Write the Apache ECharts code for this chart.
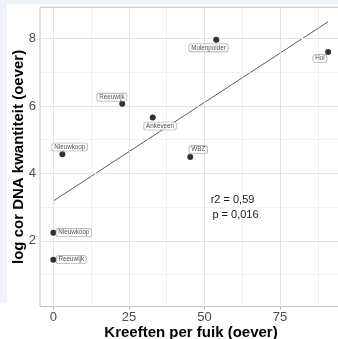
<!DOCTYPE html>
<html><head><meta charset="utf-8">
<script src="https://cdn.jsdelivr.net/npm/echarts@6/dist/echarts.min.js"></script>
<style>html,body{margin:0;padding:0;background:#fff}#c{width:338px;height:339px}</style>
</head><body><div id="c"></div>
<script>
const sites = ['Reeuwijk','Nieuwkoop','Nieuwkoop','Reeuwijk','Ankeveen','Molenpolder','Hol','WBZ'];
const kreeften = [0, 0, 3, 22.8, 32.9, 53.9, 90.9, 45.3];
const logDNA = [1.44, 2.24, 4.57, 6.07, 5.66, 7.97, 7.6, 4.49];
const fitX = [0, 90.9];
const fitY = [3.18, 8.5];
const xTicks = [0, 25, 50, 75];
const yTicks = [2, 4, 6, 8];
const xMinor = [12.5, 37.5, 62.5, 87.5];
const yMinor = [1, 3, 5, 7];
const statLines = ['r2 = 0,59', 'p = 0,016'];

// label offsets (styling, px)
const labelOffsets = [[18,0],[20.6,0],[7.4,-7.2],[-10.3,-6.5],[7.3,8.5],[-7.7,8.2],[-8.2,6.6],[8,-7.2]];

const FONT = '"Liberation Sans", Arial, sans-serif';
const chart = echarts.init(document.getElementById('c'), null, {renderer:'canvas'});

const gridLineData = []
  .concat(xTicks.map(v => ({xAxis: v, lineStyle:{width:1}})))
  .concat(yTicks.map(v => ({yAxis: v, lineStyle:{width:1}})))
  .concat(xMinor.map(v => ({xAxis: v, lineStyle:{width:0.5}})))
  .concat(yMinor.map(v => ({yAxis: v, lineStyle:{width:0.5}})));

chart.setOption({
  animation: false,
  backgroundColor: '#ffffff',
  graphic: [
    {type:'rect', shape:{x:0,y:0,width:338,height:4}, style:{fill:'#eef2f9'}, z:-10},
    {type:'rect', shape:{x:0,y:0,width:7,height:302}, style:{fill:'#eef2f9'}, z:-10},
    {type:'text', x:232.5, y:199.5, style:{text:statLines[0], fill:'#1a1a1a', font:'11px '+FONT, align:'center', verticalAlign:'middle'}, z:100},
    {type:'text', x:235.5, y:215, style:{text:statLines[1], fill:'#1a1a1a', font:'11px '+FONT, align:'center', verticalAlign:'middle'}, z:100}
  ],
  grid: {left:40, top:7.3, right:-4, bottom:32.5, show:true, backgroundColor:'#ffffff', borderColor:'#c4c4c4', borderWidth:1, containLabel:false, outerBoundsMode:'none'},
  xAxis: {
    type:'value', min:-4.4, max:95.5,
    name:'Kreeften per fuik (oever)', nameLocation:'middle', nameGap:19, nameMoveOverlap:false,
    nameTextStyle:{fontFamily:FONT, fontWeight:'bold', fontSize:15, color:'#000'},
    axisLine:{show:false}, splitLine:{show:false},
    axisTick:{show:true, customValues:xTicks, length:3, lineStyle:{color:'#b3b3b3'}},
    axisLabel:{customValues:xTicks, margin:4, fontFamily:FONT, fontSize:13, color:'#4d4d4d'}
  },
  yAxis: {
    type:'value', min:0.05, max:8.93,
    name:'log cor DNA kwantiteit (oever)', nameLocation:'middle', nameGap:14, nameMoveOverlap:false,
    nameTextStyle:{fontFamily:FONT, fontWeight:'bold', fontSize:15, color:'#000'},
    axisLine:{show:false}, splitLine:{show:false},
    axisTick:{show:true, customValues:yTicks, length:3, lineStyle:{color:'#b3b3b3'}},
    axisLabel:{customValues:yTicks, margin:4, fontFamily:FONT, fontSize:13, color:'#4d4d4d'}
  },
  series: [
    {type:'line', data:[], silent:true, z:1,
     markLine:{silent:true, symbol:['none','none'], label:{show:false}, animation:false,
       lineStyle:{color:'#e3e3e3', type:'solid'}, emphasis:{disabled:true}, data:gridLineData}},
    {type:'line', data: fitX.map((x,i)=>[x, fitY[i]]), showSymbol:false, symbol:'none', z:3,
     lineStyle:{color:'#333333', width:0.8}, silent:true},
    {type:'scatter', z:5, symbolSize:6, itemStyle:{color:'#000'},
     data: kreeften.map((x,i)=>({value:[x, logDNA[i]], name:sites[i]})),
     label:{show:true, position:'inside', formatter:p=>p.name, fontFamily:FONT, fontSize:6.3,
       color:'#222', backgroundColor:'#ffffff', borderColor:'#8c8c8c', borderWidth:0.6,
       borderRadius:2, padding:[1,2,0.5,2]},
     labelLayout: function(params){
       const o = labelOffsets[params.dataIndex];
       return {dx:o[0], dy:o[1], hideOverlap:false};
     }}
  ]
});
</script></body></html>
